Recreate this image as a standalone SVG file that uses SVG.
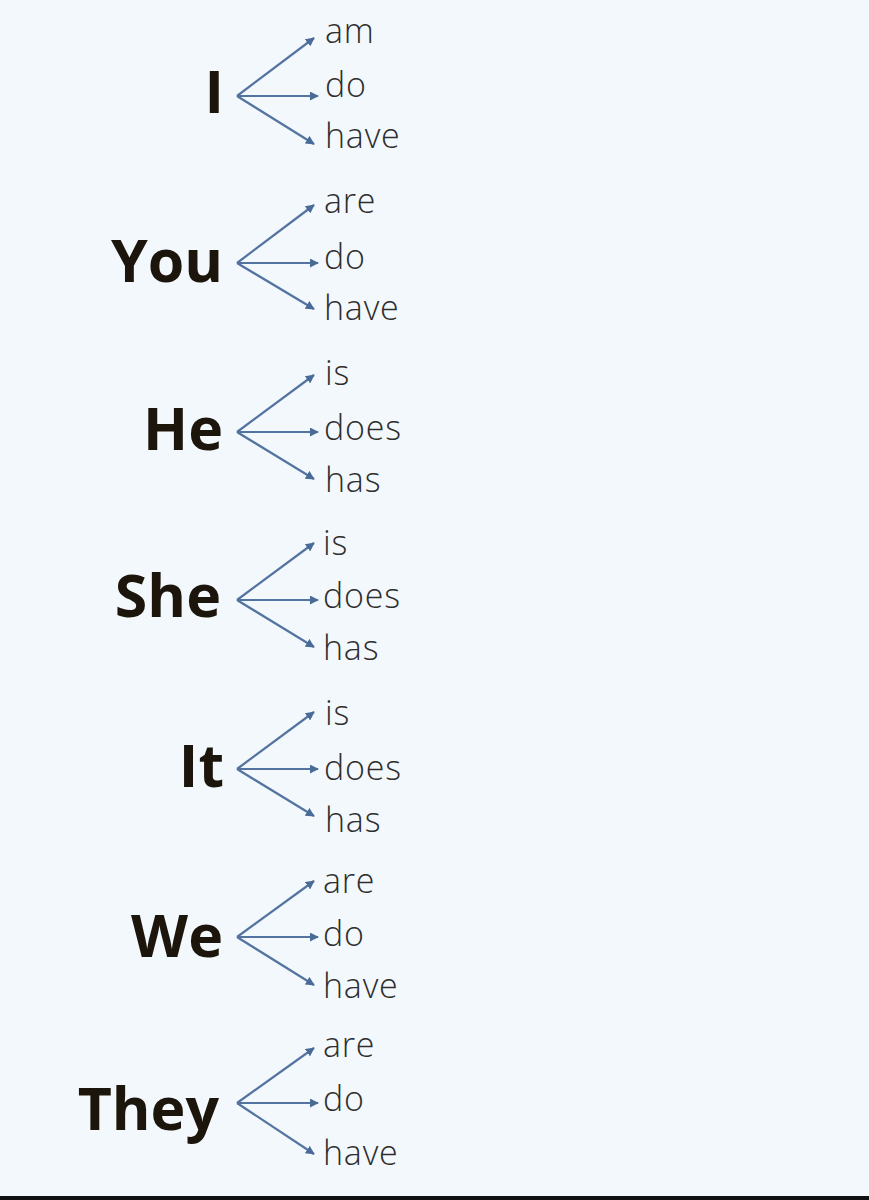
<svg xmlns="http://www.w3.org/2000/svg" width="869" height="1200" viewBox="0 0 869 1200">
<defs>
<style>
.big{font-family:"Open Sans","Liberation Sans",sans-serif;font-weight:700;font-size:59px;fill:#1c150c;text-anchor:end}
.sm{font-family:"Open Sans","Liberation Sans",sans-serif;font-weight:300;font-size:34px;fill:#2e2e2e;letter-spacing:0.8px}
.c line{stroke:#5373a0;stroke-width:2.2;fill:none;marker-end:url(#ah)}
</style>
<marker id="ah" viewBox="0 0 10 10" refX="9" refY="5" markerWidth="9" markerHeight="9" markerUnits="userSpaceOnUse" orient="auto">
<path d="M0,0 L10,5 L0,10 z" fill="#4a6b98"/>
</marker>
</defs>
<rect width="869" height="1200" fill="#f3f8fc"/>
<rect x="0" y="1196" width="869" height="4" fill="#111"/>
<g class="c" id="connectors">
<line x1="237" y1="96" x2="314" y2="38"/><line x1="237" y1="96" x2="318" y2="96"/><line x1="237" y1="96" x2="314" y2="144"/>
<line x1="237" y1="263" x2="314" y2="205"/><line x1="237" y1="263" x2="318" y2="263"/><line x1="237" y1="263" x2="314" y2="309"/>
<line x1="237" y1="432" x2="314" y2="375"/><line x1="237" y1="432" x2="318" y2="432"/><line x1="237" y1="432" x2="314" y2="479"/>
<line x1="237" y1="600" x2="314" y2="543"/><line x1="237" y1="600" x2="318" y2="600"/><line x1="237" y1="600" x2="314" y2="647"/>
<line x1="237" y1="769" x2="314" y2="712"/><line x1="237" y1="769" x2="318" y2="769"/><line x1="237" y1="769" x2="314" y2="816"/>
<line x1="237" y1="937" x2="314" y2="881"/><line x1="237" y1="937" x2="318" y2="937"/><line x1="237" y1="937" x2="314" y2="985"/>
<line x1="237" y1="1103" x2="314" y2="1048"/><line x1="237" y1="1103" x2="318" y2="1103"/><line x1="237" y1="1103" x2="314" y2="1154"/>
</g>
<g id="I"><text class="big" x="224" y="113">I</text></g>
<g id="I-words"><text class="sm" x="325" y="43">am</text><text class="sm" x="325" y="97">do</text><text class="sm" x="325" y="148">have</text></g>
<g id="You"><text class="big" x="223" y="282">You</text></g>
<g id="You-words"><text class="sm" x="324" y="213">are</text><text class="sm" x="324" y="269">do</text><text class="sm" x="324" y="320">have</text></g>
<g id="He"><text class="big" x="223" y="450">He</text></g>
<g id="He-words"><text class="sm" x="325" y="385">is</text><text class="sm" x="324" y="440">does</text><text class="sm" x="325" y="492">has</text></g>
<g id="She"><text class="big" x="221" y="617">She</text></g>
<g id="She-words"><text class="sm" x="323" y="555">is</text><text class="sm" x="323" y="608">does</text><text class="sm" x="323" y="660">has</text></g>
<g id="It"><text class="big" x="224" y="787">It</text></g>
<g id="It-words"><text class="sm" x="325" y="725">is</text><text class="sm" x="324" y="780">does</text><text class="sm" x="325" y="832">has</text></g>
<g id="We"><text class="big" x="223" y="957">We</text></g>
<g id="We-words"><text class="sm" x="323" y="893">are</text><text class="sm" x="323" y="946">do</text><text class="sm" x="323" y="998">have</text></g>
<g id="They"><text class="big" x="219" y="1130">They</text></g>
<g id="They-words"><text class="sm" x="323" y="1057">are</text><text class="sm" x="323" y="1111">do</text><text class="sm" x="323" y="1165">have</text></g>
</svg>
